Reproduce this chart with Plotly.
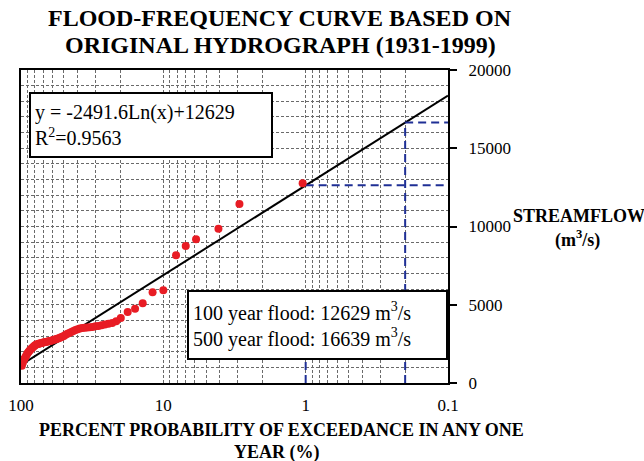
import numpy as np
import plotly.graph_objects as go

FONT = "Times New Roman, Liberation Serif, serif"

# Ranked annual peak flows (1931-1999): exceedance probability (%) and flow (m3/s)
exceed_pct = [1.05, 2.92, 4.1, 5.89, 6.96, 8.14, 10.0, 11.9, 13.96, 15.8, 17.8, 19.9,
              21.43, 22.86, 24.29, 25.71, 27.14, 28.57, 30.0, 31.43, 32.86, 34.29,
              35.71, 37.14, 38.57, 40.0, 41.43, 42.86, 44.29, 45.71, 47.14, 48.57,
              50.0, 51.43, 52.86, 54.29, 55.71, 57.14, 58.57, 60.0, 61.43, 62.86,
              64.29, 65.71, 67.14, 68.57, 70.0, 71.43, 72.86, 74.29, 75.71, 77.14,
              78.57, 80.0, 81.43, 82.86, 84.29, 85.71, 87.14, 88.57, 90.0, 91.43,
              92.86, 94.29, 95.71, 97.14, 98.57]
peak_flow = [12760, 11440, 9850, 9180, 8760, 8160, 5920, 5800, 5090, 4740, 4530, 4150,
             3940, 3840, 3790, 3740, 3690, 3640, 3620, 3580, 3555, 3540,
             3530, 3510, 3490, 3430, 3380, 3320, 3260, 3200, 3140, 3080,
             3010, 2960, 2900, 2860, 2820, 2790, 2760, 2730, 2700, 2680,
             2660, 2640, 2620, 2600, 2580, 2560, 2540, 2520, 2500, 2470,
             2440, 2390, 2330, 2270, 2210, 2140, 2060, 1980, 1900, 1790,
             1680, 1570, 1450, 1300, 1100]

# Logarithmic trend fit: Q = a*ln(p) + b
fit_a = -2491.6
fit_b = 12629
fit_r2 = 0.9563

# Design floods read from the fit
flood_pct = [1, 0.2]          # 100-year and 500-year
flood_q = [12629, 16639]
flood_years = [100, 500]

# Axis ticks
x_major = [100, 10, 1, 0.1]
y_major = [0, 5000, 10000, 15000, 20000]
y_labels = ["0", "5000", "10000", "15000", "20000"]

x_grid = sorted({round(m * 10.0 ** e, 3) for e in (-1, 0, 1) for m in range(1, 10)} | {100.0},
                reverse=True)
x_text = [("%g" % v) if v in x_major else "" for v in x_grid]

fig = go.Figure()

# Trend line across the full probability range
p_fit = np.array([100, 0.1])
fig.add_trace(go.Scatter(x=p_fit, y=fit_a * np.log(p_fit) + fit_b, mode="lines",
                         line=dict(color="black", width=2), hoverinfo="skip"))

# Guide lines for the design floods
guide = dict(color="#1f2f95", width=2, dash="8px,5px")
fig.add_trace(go.Scatter(x=[flood_pct[0], 0.1], y=[flood_q[0], flood_q[0]], mode="lines",
                         line=guide, hoverinfo="skip"))
fig.add_trace(go.Scatter(x=[flood_pct[0], flood_pct[0]], y=[0, 4000], mode="lines",
                         line=guide, hoverinfo="skip"))
fig.add_trace(go.Scatter(x=[flood_pct[1], 0.1], y=[flood_q[1], flood_q[1]], mode="lines",
                         line=guide, hoverinfo="skip"))
fig.add_trace(go.Scatter(x=[flood_pct[1], flood_pct[1]], y=[0, flood_q[1]], mode="lines",
                         line=guide, hoverinfo="skip"))

# Observed annual peaks
fig.add_trace(go.Scatter(x=exceed_pct, y=peak_flow, mode="markers",
                         marker=dict(color="rgb(232,28,36)", size=8, line=dict(width=0))))

grid_col = "#6a6a6a"
fig.update_xaxes(type="log", range=[2, -1], tickmode="array", tickvals=x_grid,
                 ticktext=x_text, ticks="", showgrid=True, gridcolor=grid_col,
                 gridwidth=1, griddash="3px,2px", showline=True, linecolor="black",
                 linewidth=2, mirror=True, zeroline=False, automargin=False,
                 tickfont=dict(family=FONT, size=17, color="black"),
                 ticklabelstandoff=6)
fig.update_yaxes(range=[0, 20000], side="right", tickmode="array", tickvals=y_major,
                 ticktext=y_labels,
                 ticks="outside", ticklen=7, tickwidth=1.5, tickcolor="black",
                 showgrid=True, gridcolor=grid_col, gridwidth=1, griddash="3px,2px",
                 minor=dict(dtick=1000, showgrid=True, gridcolor=grid_col, gridwidth=1,
                            griddash="3px,2px", ticks=""),
                 showline=True, linecolor="black", linewidth=2, mirror=True,
                 zeroline=False, automargin=False,
                 tickfont=dict(family=FONT, size=17, color="black"),
                 ticklabelstandoff=8)


def py(px):
    """Convert a pixel row of the 644x461 canvas into paper y."""
    return (383 - px) / 313


def pxx(px):
    """Convert a pixel column of the canvas into paper x."""
    return (px - 21) / 427


bold = dict(family=FONT, color="black")
annotations = [
    dict(xref="paper", yref="paper", x=pxx(29), y=py(92), xanchor="left", yanchor="top",
         text="y = %.1fLn(x)+%d<br>R<sup>2</sup>=%.4f" % (fit_a, fit_b, fit_r2),
         align="left", valign="middle", width=232, height=54, showarrow=False,
         bgcolor="white", bordercolor="black", borderwidth=2, borderpad=4,
         font=dict(family=FONT, size=20, color="black")),
    dict(xref="paper", yref="paper", x=1.0, y=py(290), xanchor="right", yanchor="top",
         text="%d year flood: %d m<sup>3</sup>/s<br>%d year flood: %d m<sup>3</sup>/s"
              % (flood_years[0], flood_q[0], flood_years[1], flood_q[1]),
         align="left", valign="middle", width=249, height=58, showarrow=False,
         bgcolor="white", bordercolor="black", borderwidth=2, borderpad=4,
         font=dict(family=FONT, size=20, color="black")),
    # Chart title
    dict(xref="paper", yref="paper", x=pxx(280), y=py(18), xanchor="center",
         yanchor="middle", text="<b>FLOOD-FREQUENCY CURVE BASED ON</b>",
         showarrow=False, font=dict(size=24, **bold)),
    dict(xref="paper", yref="paper", x=pxx(280), y=py(45), xanchor="center",
         yanchor="middle", text="<b>ORIGINAL HYDROGRAPH (1931-1999)</b>",
         showarrow=False, font=dict(size=24, **bold)),
    # Axis titles
    dict(xref="paper", yref="paper", x=pxx(281), y=py(430), xanchor="center",
         yanchor="middle", text="<b>PERCENT PROBABILITY OF EXCEEDANCE IN ANY ONE</b>",
         showarrow=False, font=dict(size=18, **bold)),
    dict(xref="paper", yref="paper", x=pxx(277), y=py(452), xanchor="center",
         yanchor="middle", text="<b>YEAR (%)</b>",
         showarrow=False, font=dict(size=18, **bold)),
    dict(xref="paper", yref="paper", x=pxx(579), y=py(216), xanchor="center",
         yanchor="middle", text="<b>STREAMFLOW</b>", showarrow=False,
         font=dict(size=18, **bold)),
    dict(xref="paper", yref="paper", x=pxx(577), y=py(239), xanchor="center",
         yanchor="middle", text="<b>(m<sup>3</sup>/s)</b>", showarrow=False,
         font=dict(size=18, **bold)),
]

fig.update_layout(
    width=644, height=461, showlegend=False,
    paper_bgcolor="white", plot_bgcolor="white",
    margin=dict(l=21, r=196, t=70, b=78),
    annotations=annotations,
)

fig.write_html("out.html")
